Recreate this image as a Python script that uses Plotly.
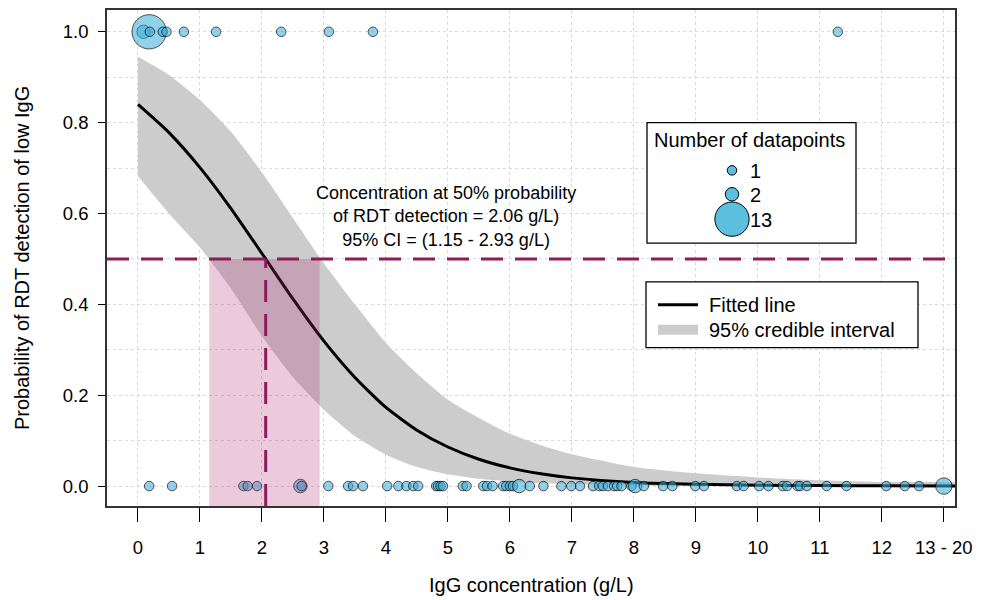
import numpy as np
import plotly.graph_objects as go

# ---------------- data ----------------
curve_x = [0, 0.5, 1, 1.5, 2, 2.5, 3, 3.5, 4, 4.5, 5, 5.5, 6, 6.5, 7, 8, 9, 10, 11, 12, 13.5]
fitted = [0.840, 0.778, 0.701, 0.611, 0.512, 0.412, 0.319, 0.239, 0.173, 0.123, 0.086,
          0.059, 0.040, 0.027, 0.018, 0.008, 0.004, 0.002, 0.001, 0.0005, 0.0001]
ci_upper = [0.945, 0.905, 0.850, 0.780, 0.690, 0.590, 0.490, 0.400, 0.315, 0.248, 0.190,
            0.150, 0.115, 0.090, 0.070, 0.042, 0.028, 0.019, 0.013, 0.009, 0.005]
ci_lower = [0.682, 0.600, 0.525, 0.435, 0.330, 0.240, 0.168, 0.110, 0.069, 0.042, 0.026,
            0.016, 0.010, 0.006, 0.004, 0.0015, 0.0006, 0.0002, 0.0001, 0.0, 0.0]

pos_x = [0.09, 0.18, 0.19, 0.40, 0.46, 0.74, 1.26, 2.31, 3.08, 3.79, 11.29]
pos_n = [2, 13, 1, 1, 1, 1, 1, 1, 1, 1, 1]

neg_x = [0.18, 0.55, 1.70, 1.77, 1.92, 2.62, 2.64, 3.07, 3.39, 3.47, 3.63, 4.02, 4.20, 4.33,
         4.44, 4.52, 4.81, 4.84, 4.88, 4.92, 5.24, 5.30, 5.57, 5.63, 5.72, 5.89, 5.94, 6.00,
         6.05, 6.15, 6.32, 6.54, 6.83, 6.99, 7.13, 7.34, 7.44, 7.50, 7.58, 7.68, 7.73, 7.80,
         7.96, 8.02, 8.16, 8.47, 8.62, 8.99, 9.13, 9.66, 9.77, 10.02, 10.17, 10.40, 10.47,
         10.64, 10.68, 10.79, 11.11, 11.43, 12.07, 12.37, 12.60, 13.0]
neg_n = [1, 1, 1, 1, 1, 2, 1, 1, 1, 1, 1, 1, 1, 1,
         1, 1, 1, 1, 1, 1, 1, 1, 1, 1, 1, 1, 1, 1,
         1, 2, 1, 1, 1, 1, 1, 1, 1, 1, 1, 1, 1, 1,
         1, 2, 1, 1, 1, 1, 1, 1, 1, 1, 1, 1, 1,
         1, 1, 1, 1, 1, 1, 1, 1, 3]

ec50 = 2.06
ci_low = 1.15
ci_high = 2.93
prob_level = 0.5

x_tickvals = list(range(0, 14))
x_ticktext = [str(i) for i in range(0, 13)] + ["13 - 20"]
legend_sizes = [1, 2, 13]

# ---------------- style ----------------
FONT = "Liberation Sans, Arial, sans-serif"
PT_FILL = "rgba(60,174,217,0.80)"
LEG_FILL = "rgba(91,192,222,1)"
MAROON = "#8E1B5E"
XR = [-0.5, 13.18]
YR = [-0.0439, 1.048]
L, R, T, B = 107, 955, 8, 506
W, H = 987, 600
OFF = 8  # page body margin
FS_TICK, FS_TITLE, FS_LEG, FS_ANN = 18.5, 20, 20, 18


def dia(n):
    return 9.5 * np.sqrt(np.asarray(n, dtype=float))


def pxx(xp):
    return (xp - L) / (R - L)


def pxy(yp):
    return (B - yp) / (B - T)


def fnt(s):
    return dict(size=s, family=FONT, color="black")


fig = go.Figure()

# credible band
fig.add_trace(go.Scatter(
    x=curve_x + curve_x[::-1], y=ci_upper + ci_lower[::-1],
    fill="toself", fillcolor="#CCCCCC", line=dict(width=0, shape="spline", smoothing=0.6),
    mode="lines", hoverinfo="skip", showlegend=False))

# fitted curve
fig.add_trace(go.Scatter(
    x=curve_x, y=fitted, mode="lines",
    line=dict(color="black", width=3, shape="spline", smoothing=0.6),
    showlegend=False))

# data points
fig.add_trace(go.Scatter(
    x=neg_x, y=[0] * len(neg_x), mode="markers",
    marker=dict(size=dia(neg_n), color=PT_FILL, line=dict(color="black", width=1)),
    showlegend=False, cliponaxis=False))
fig.add_trace(go.Scatter(
    x=pos_x, y=[1] * len(pos_x), mode="markers",
    marker=dict(size=dia(pos_n), color=PT_FILL, line=dict(color="black", width=1)),
    showlegend=False, cliponaxis=False))

# CI rectangle
fig.add_trace(go.Scatter(
    x=[ci_low, ci_high, ci_high, ci_low, ci_low],
    y=[YR[0], YR[0], prob_level, prob_level, YR[0]],
    fill="toself", fillcolor="rgba(176,48,110,0.25)", line=dict(width=0),
    mode="lines", hoverinfo="skip", showlegend=False))

shapes = []
# dashed lines
shapes.append(dict(type="line", xref="paper", yref="y", x0=0, x1=1, y0=prob_level, y1=prob_level,
                   line=dict(color=MAROON, width=3, dash="22px,12px"), layer="above"))
shapes.append(dict(type="line", xref="x", yref="y", x0=ec50, x1=ec50, y0=YR[0], y1=prob_level,
                   line=dict(color=MAROON, width=3, dash="22px,12px"), layer="above"))

annotations = []
# legend 1: Number of datapoints
shapes.append(dict(type="rect", xref="paper", yref="paper", x0=pxx(647), x1=pxx(856),
                   y0=pxy(242), y1=pxy(121), line=dict(color="black", width=1.3),
                   fillcolor="white", layer="above"))
annotations.append(dict(x=pxx(749), y=pxy(139), xref="paper", yref="paper", text="Number of datapoints",
                        showarrow=False, font=fnt(FS_LEG), xanchor="center", yanchor="middle"))
for n, yc in zip(legend_sizes, [169, 193, 218]):
    r = dia(n) / 2.0
    shapes.append(dict(type="circle", xref="paper", yref="paper", xsizemode="pixel", ysizemode="pixel",
                       xanchor=pxx(732), yanchor=pxy(yc), x0=-r, x1=r, y0=-r, y1=r,
                       fillcolor=LEG_FILL, line=dict(color="black", width=1), layer="above"))
    annotations.append(dict(x=pxx(748), y=pxy(yc + 1), xref="paper", yref="paper", text=str(n),
                            showarrow=False, font=fnt(FS_LEG), xanchor="left", yanchor="middle"))

# legend 2: line / band
shapes.append(dict(type="rect", xref="paper", yref="paper", x0=pxx(646), x1=pxx(918),
                   y0=pxy(347), y1=pxy(281), line=dict(color="black", width=1.3),
                   fillcolor="white", layer="above"))
shapes.append(dict(type="line", xref="paper", yref="paper", x0=pxx(658), x1=pxx(698),
                   y0=pxy(304), y1=pxy(304), line=dict(color="black", width=3), layer="above"))
shapes.append(dict(type="line", xref="paper", yref="paper", x0=pxx(658), x1=pxx(698),
                   y0=pxy(329), y1=pxy(329), line=dict(color="#CCCCCC", width=10), layer="above"))
annotations.append(dict(x=pxx(707), y=pxy(304), xref="paper", yref="paper", text="Fitted line",
                        showarrow=False, font=fnt(FS_LEG), xanchor="left", yanchor="middle"))
annotations.append(dict(x=pxx(707), y=pxy(329), xref="paper", yref="paper", text="95% credible interval",
                        showarrow=False, font=fnt(FS_LEG), xanchor="left", yanchor="middle"))

# EC50 text
annotations.append(dict(
    x=pxx(446), y=pxy(215), xref="paper", yref="paper",
    text=(f"Concentration at 50% probability<br>of RDT detection = {ec50:.2f} g/L)"
          f"<br>95% CI = ({ci_low:.2f} - {ci_high:.2f} g/L)"),
    showarrow=False, align="center", font=fnt(FS_ANN), xanchor="center", yanchor="middle"))

# axis titles
annotations.append(dict(x=0.5, y=0, xref="paper", yref="paper", text="IgG concentration (g/L)",
                        showarrow=False, yshift=-(585 - B), font=fnt(FS_TITLE),
                        xanchor="center", yanchor="middle"))
annotations.append(dict(x=0, y=0.5, xref="paper", yref="paper", text="Probability of RDT detection of low IgG",
                        showarrow=False, xshift=-(L - 22), textangle=-90, font=fnt(FS_TITLE),
                        xanchor="center", yanchor="middle"))

fig.update_layout(
    width=W - OFF, height=H - OFF,
    margin=dict(l=L - OFF, r=W - R, t=T - OFF, b=H - B, pad=0),
    plot_bgcolor="white", paper_bgcolor="white",
    font=dict(family=FONT, size=FS_TICK, color="black"),
    shapes=shapes, annotations=annotations, showlegend=False,
)
fig.update_xaxes(
    range=XR, tickvals=x_tickvals, ticktext=x_ticktext,
    showline=True, mirror=True, linecolor="#333333", linewidth=1.5,
    ticks="outside", ticklen=14, tickcolor="black", tickwidth=1,
    ticklabelstandoff=10,
    showgrid=True, gridcolor="#D9D9D9", griddash="dot", gridwidth=1, zeroline=False,
    tickfont=fnt(FS_TICK),
)
fig.update_yaxes(
    range=YR, tickvals=[0, 0.2, 0.4, 0.6, 0.8, 1.0], tickformat=".1f",
    showline=True, mirror=True, linecolor="#333333", linewidth=1.5,
    ticks="outside", ticklen=7, tickcolor="black", tickwidth=1,
    ticklabelstandoff=6,
    showgrid=True, gridcolor="#D9D9D9", griddash="dot", gridwidth=1, zeroline=False,
    minor=dict(dtick=0.1, tick0=0, showgrid=True, gridcolor="#D9D9D9", griddash="dot", ticks=""),
    tickfont=fnt(FS_TICK),
)

fig.write_html("out.html")
